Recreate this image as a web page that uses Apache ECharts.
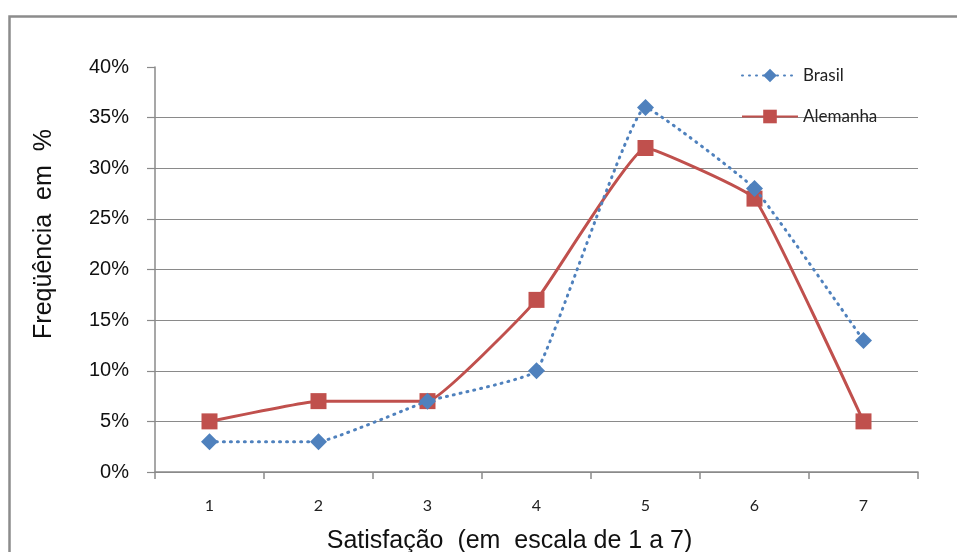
<!DOCTYPE html>
<html><head><meta charset="utf-8">
<script src="https://cdn.jsdelivr.net/npm/echarts@6/dist/echarts.min.js"></script>
<style>html,body{margin:0;padding:0;background:#fff}#c{width:957px;height:552px}</style>
</head><body><div id="c"></div>
<script>
const categories = ['1','2','3','4','5','6','7'];
const brasil = [0.03, 0.03, 0.07, 0.10, 0.36, 0.28, 0.13];
const alemanha = [0.05, 0.07, 0.07, 0.17, 0.32, 0.27, 0.05];
const yTicks = {min: 0, max: 0.4, interval: 0.05};

const chart = echarts.init(document.getElementById('c'), null, {renderer: 'canvas'});
chart.setOption({
  animation: false,
  backgroundColor: '#fff',
  graphic: [{
    type: 'rect', left: 7, top: 14, z: -1,
    shape: {x: 0, y: 0, width: 1000, height: 600},
    style: {fill: 'none', stroke: '#8c8c8c', lineWidth: 2.5}
  }],
  grid: {left: 155, right: 39, top: 67, bottom: 80, outerBoundsMode: 'none', containLabel: false},
  legend: {
    orient: 'vertical', left: 736, top: 62, itemGap: 24,
    itemWidth: 56, itemHeight: 17,
    textStyle: {fontFamily: 'Lato', fontSize: 17, color: '#222'},
    data: ['Brasil', 'Alemanha']
  },
  xAxis: {
    type: 'category', data: categories, boundaryGap: true,
    axisLine: {lineStyle: {color: '#8a8a8a', width: 1.5}},
    axisTick: {show: true, length: 7, lineStyle: {color: '#8a8a8a', width: 1.5}},
    axisLabel: {margin: 26, fontFamily: 'Lato', fontSize: 16, color: '#222'},
    name: 'Satisfação  (em  escala de 1 a 7)', nameLocation: 'middle', nameGap: 57,
    nameTextStyle: {fontFamily: 'Liberation Sans', fontSize: 25, color: '#111', padding: [0, 54, 0, 0]}
  },
  yAxis: {
    type: 'value', min: yTicks.min, max: yTicks.max, interval: yTicks.interval,
    axisLine: {show: true, lineStyle: {color: '#8a8a8a', width: 1.5}},
    axisTick: {show: true, length: 8, lineStyle: {color: '#8a8a8a', width: 1.2}},
    splitLine: {show: true, showMaxLine: false, lineStyle: {color: '#8a8a8a', width: 1.2}},
    axisLabel: {margin: 26, fontFamily: 'Liberation Sans', fontSize: 20, color: '#111',
      formatter: v => Math.round(v * 100) + '%'},
    name: 'Freqüência  em  %', nameLocation: 'middle', nameGap: 98,
    nameTextStyle: {fontFamily: 'Liberation Sans', fontSize: 25, color: '#111', padding: [0, 0, 0, 71]}
  },
  series: [
    {
      name: 'Brasil', type: 'line', data: brasil, smooth: 0.1,
      symbol: 'diamond', symbolSize: 17,
      itemStyle: {color: '#4F81BD'},
      lineStyle: {color: '#4F81BD', width: 3, type: [1, 6], cap: 'round'},
      z: 3
    },
    {
      name: 'Alemanha', type: 'line', data: alemanha, smooth: 0.1,
      symbol: 'rect', symbolSize: 16,
      itemStyle: {color: '#C0504D'},
      lineStyle: {color: '#C0504D', width: 3},
      z: 2
    }
  ]
});
</script></body></html>
